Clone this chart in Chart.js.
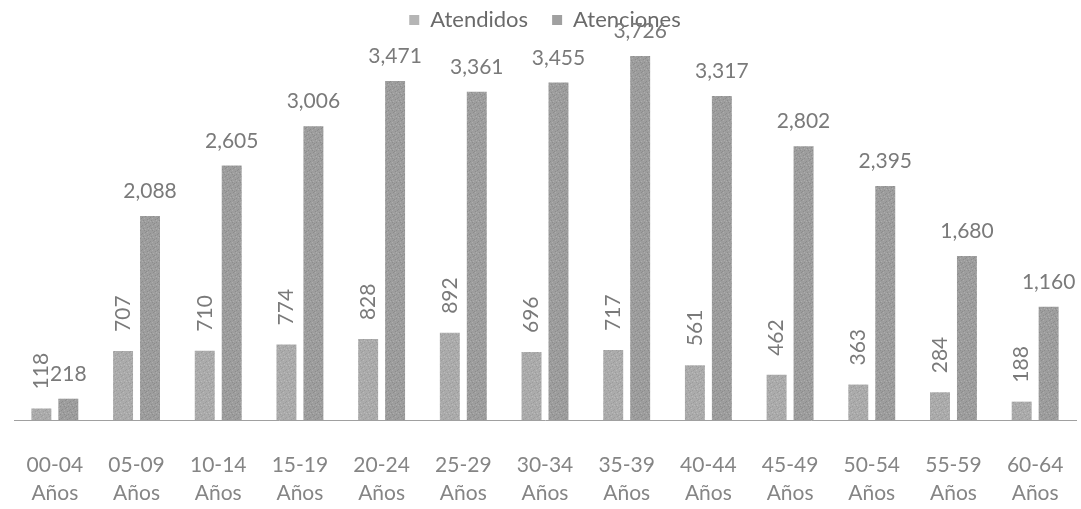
<!DOCTYPE html>
<html>
<head>
<meta charset="utf-8">
<script src="https://cdn.jsdelivr.net/npm/chart.js@4.4.1/dist/chart.umd.min.js"></script>
<style>
  html, body { margin: 0; padding: 0; background: #ffffff; }
  #wrap { width: 1081px; height: 509px; position: relative; }
</style>
</head>
<body>
<div id="wrap"><canvas id="chart"></canvas></div>
<script>
// Age groups (two-line tick labels)
const grupos = ['00-04', '05-09', '10-14', '15-19', '20-24', '25-29', '30-34',
                '35-39', '40-44', '45-49', '50-54', '55-59', '60-64'];
const unidad = 'Años';

// Patients attended and total attentions per age group
const atendidos  = [118, 707, 710, 774, 828, 892, 696, 717, 561, 462, 363, 284, 188];
const atenciones = [218, 2088, 2605, 3006, 3471, 3361, 3455, 3726, 3317, 2802, 2395, 1680, 1160];

const FONT = 'Lato, "Open Sans", sans-serif';

// Grainy gray fill built from a fixed tile
function grainFill(base, dark, light) {
  const c = document.createElement('canvas');
  c.width = 8; c.height = 8;
  const g = c.getContext('2d');
  g.fillStyle = base; g.fillRect(0, 0, 8, 8);
  const darkPts = [[1,0],[6,1],[3,3],[7,4],[0,6],[4,6],[5,2],[2,7]];
  const lightPts = [[3,0],[0,2],[6,5],[4,4],[1,5]];
  g.fillStyle = dark;
  darkPts.forEach(p => g.fillRect(p[0], p[1], 1, 1));
  g.fillStyle = light;
  lightPts.forEach(p => g.fillRect(p[0], p[1], 1, 1));
  return g.createPattern(c, 'repeat');
}

const fillAtendidos  = grainFill('#ababab', '#9c9c9c', '#bababa');
const fillAtenciones = grainFill('#9d9d9d', '#8c8c8c', '#adadad');

// Value labels: vertical for the first series, horizontal for the second
const valueLabels = {
  id: 'valueLabels',
  afterDatasetsDraw(chart) {
    const ctx = chart.ctx;
    ctx.save();
    ctx.font = '21px ' + FONT;
    ctx.fillStyle = '#7a7a7a';
    chart.data.datasets.forEach((ds, di) => {
      const meta = chart.getDatasetMeta(di);
      meta.data.forEach((bar, i) => {
        const txt = ds.data[i].toLocaleString('en-US');
        if (di === 0) {
          ctx.save();
          ctx.translate(bar.x, bar.y - 19);
          ctx.rotate(-Math.PI / 2);
          ctx.textAlign = 'left';
          ctx.textBaseline = 'middle';
          ctx.fillText(txt, 0, 0);
          ctx.restore();
        } else {
          ctx.textAlign = 'center';
          ctx.textBaseline = 'alphabetic';
          ctx.fillText(txt, bar.x, bar.y - 18);
        }
      });
    });
    ctx.restore();
  }
};

new Chart(document.getElementById('chart'), {
  type: 'bar',
  data: {
    labels: grupos.map(g => [g, unidad]),
    datasets: [
      { label: 'Atendidos',  data: atendidos,  backgroundColor: fillAtendidos },
      { label: 'Atenciones', data: atenciones, backgroundColor: fillAtenciones }
    ]
  },
  options: {
    responsive: true,
    maintainAspectRatio: false,
    animation: false,
    categoryPercentage: 0.66,
    barPercentage: 0.74,
    layout: { padding: { left: 14, right: 5, top: -15, bottom: 2 } },
    plugins: {
      tooltip: { enabled: false },
      legend: {
        position: 'top',
        align: 'center',
        labels: {
          font: { family: FONT, size: 22 },
          color: '#6a6a6a',
          boxWidth: 10,
          boxHeight: 10,
          padding: 24,
          generateLabels(chart) {
            return chart.data.datasets.map((ds, i) => ({
              text: ds.label,
              fillStyle: i === 0 ? '#b5b5b5' : '#a0a0a0',
              strokeStyle: 'rgba(0,0,0,0)',
              lineWidth: 0,
              datasetIndex: i,
              hidden: false,
              fontColor: '#6a6a6a'
            }));
          }
        }
      }
    },
    scales: {
      x: {
        grid: { display: false, drawTicks: false },
        border: { display: true, color: '#a0a0a0', width: 1 },
        ticks: {
          font: { family: FONT, size: 21, lineHeight: 1.33 },
          color: '#858585',
          padding: 31,
          maxRotation: 0,
          autoSkip: false
        },
        afterFit(scale) {
          scale.height = 87;
          scale.paddingLeft = 0;
          scale.paddingRight = 0;
        }
      },
      y: {
        display: false,
        min: 0,
        max: 3880
      }
    }
  },
  plugins: [valueLabels]
});
</script>
</body>
</html>
